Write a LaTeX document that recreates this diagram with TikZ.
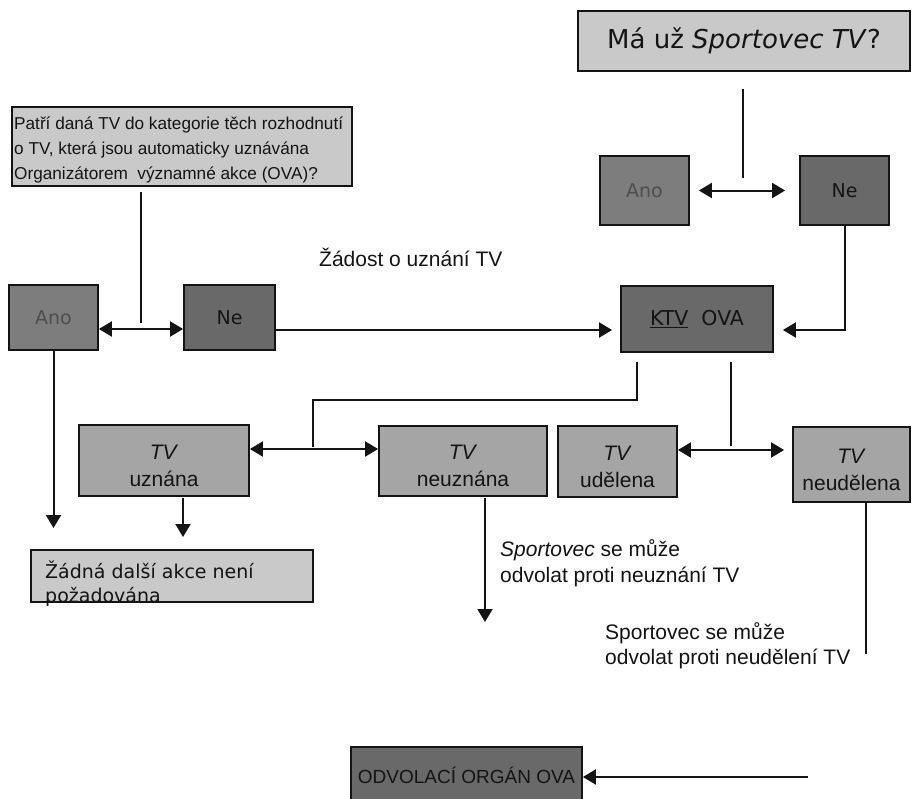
\documentclass[tikz,border=0pt]{standalone}
\usepackage{fontspec}
\setmainfont{Liberation Sans}
\newfontfamily\verd{DejaVu Sans}
\usetikzlibrary{arrows.meta}
\definecolor{lightfill}{HTML}{C9C9C9}
\definecolor{midfill}{HTML}{A5A5A5}
\definecolor{anofill}{HTML}{7D7D7D}
\definecolor{darkfill}{HTML}{696969}
\definecolor{anotext}{HTML}{4E4E4E}
\definecolor{inkc}{HTML}{141414}
\begin{document}
\begin{tikzpicture}[x=1pt,y=-1pt,
  bx/.style={draw=inkc, line width=1.8pt, inner sep=2pt, text=inkc},
  lightbox/.style={bx, fill=lightfill},
  tvbox/.style={bx, fill=midfill, align=center, text height=52pt, font=\fontsize{21}{27}\selectfont},
  anobox/.style={bx, fill=anofill, text=anotext, font=\verd\fontsize{19}{22}\selectfont, minimum width=89pt},
  nebox/.style={bx, fill=darkfill, font=\verd\fontsize{19}{22}\selectfont},
  ln/.style={draw=inkc, line width=2pt},
  arr/.style={ln, -{Triangle[length=13pt,width=15pt]}},
  dbl/.style={ln, {Triangle[length=13pt,width=15pt]}-{Triangle[length=13pt,width=15pt]}},
  lbl/.style={inner sep=0pt, text=inkc, align=left, font=\fontsize{21}{26}\selectfont}
]
\useasboundingbox (0,0) rectangle (917,798);
\clip (0,0) rectangle (917,798);
\fill[white] (0,0) rectangle (917,798);

% boxes
\node[lightbox, minimum width=332pt, minimum height=60pt, font=\verd\fontsize{26}{30}\selectfont] (top) at (744,41) {Má už \textit{Sportovec TV}?};
\node[anobox, minimum height=69pt] (rAno) at (644.5,190.5) {Ano};
\node[nebox, minimum width=89pt, minimum height=69pt] (rNe) at (844.5,190.5) {Ne};
\node[lightbox, minimum width=340pt, minimum height=79pt] (quest) at (182,146.5) {};
\node[lbl, anchor=west, font=\fontsize{17.2}{25}\selectfont] (questtxt) at (14,150) {Patří daná TV do kategorie těch rozhodnutí\\o TV, která jsou automaticky uznávána\\Organizátorem~ významné akce (OVA)?};
\node[anobox, minimum height=65pt] (lAno) at (53.5,317.5) {Ano};
\node[nebox, minimum width=91pt, minimum height=65pt] (lNe) at (229.5,317.5) {Ne};
\node[nebox, minimum width=152pt, minimum height=66pt, font=\verd\fontsize{20.5}{24}\selectfont] (KTV) at (697,319) {\underline{KTV}\ \ OVA};
\node[tvbox, minimum width=170pt, minimum height=71pt] (uzn) at (164,460.5) {\textit{TV}\\uznána};
\node[tvbox, minimum width=168pt, minimum height=70pt] (neuzn) at (463,461) {\textit{TV}\\neuznána};
\node[tvbox, minimum width=119pt, minimum height=71pt] (udel) at (617.5,461.5) {\textit{TV}\\udělena};
\node[tvbox, minimum width=117pt, minimum height=75pt] (neudel) at (851.5,464.5) {\textit{TV}\\neudělena};
\node[lightbox, minimum width=282pt, minimum height=52pt] (nonebox) at (172,576) {};
\node[lbl, anchor=west, font=\verd\fontsize{19}{24}\selectfont] (nonetxt) at (45,584) {Žádná další akce není\\požadována};
\node[nebox, minimum width=231pt, minimum height=56pt, inner sep=1pt, font=\fontsize{19}{23}\selectfont] (odv) at (466.5,775) {ODVOLACÍ ORGÁN OVA};

% labels
\node[lbl, anchor=west] (req) at (319,257) {Žádost o uznání TV};
\node[lbl, anchor=west] (app1) at (500,563.5) {\textit{Sportovec} se může\\odvolat proti neuznání TV};
\node[lbl, anchor=west, font=\fontsize{21}{25}\selectfont] (app2) at (605,645.5) {Sportovec se může\\odvolat proti neudělení TV};

% coordinates
\coordinate (t1) at (743,89); \coordinate (t2) at (743,178);
\coordinate (q1) at (141,192); \coordinate (q2) at (141,323);
\coordinate (ya) at (0,329);
\coordinate (yk) at (0,330);
\coordinate (aEnd) at (52,528);
\coordinate (k1) at (637,362); \coordinate (k2) at (313,447);
\coordinate (ym) at (0,400);
\coordinate (yt) at (0,449);
\coordinate (k3) at (731,362); \coordinate (k4) at (731,446);
\coordinate (yu) at (0,450);
\coordinate (u1) at (183,498); \coordinate (u2) at (183,537);
\coordinate (n1) at (485,498); \coordinate (n2) at (485,622);
\coordinate (d1) at (866,503); \coordinate (d2) at (866,654);
\coordinate (o1) at (808,777);

% connectors
\draw[ln] (t1) -- (t2);
\draw[dbl, shorten <=9pt, shorten >=14pt] (rAno.east) -- (rNe.west);
\draw[ln] (q1) -- (q2);
\draw[dbl] (lAno.east |- ya) -- (lNe.west |- ya);
\draw[arr, shorten >=8pt] (lNe.east |- yk) -- (KTV.west |- yk);
\draw[arr, shorten >=9pt] (rNe.south) |- (KTV.east |- yk);
\draw[arr] (lAno.south) -- (lAno.south |- aEnd);
\draw[ln] (k1) -- (k1 |- ym) -- (k2 |- ym) -- (k2);
\draw[dbl] (uzn.east |- yt) -- (neuzn.west |- yt);
\draw[ln] (k3) -- (k4);
\draw[dbl, shorten >=8pt] (udel.east |- yu) -- (neudel.west |- yu);
\draw[arr] (u1) -- (u2);
\draw[arr] (n1) -- (n2);
\draw[ln] (d1) -- (d2);
\draw[arr] (o1) -- (odv.east |- o1);
\end{tikzpicture}
\end{document}
